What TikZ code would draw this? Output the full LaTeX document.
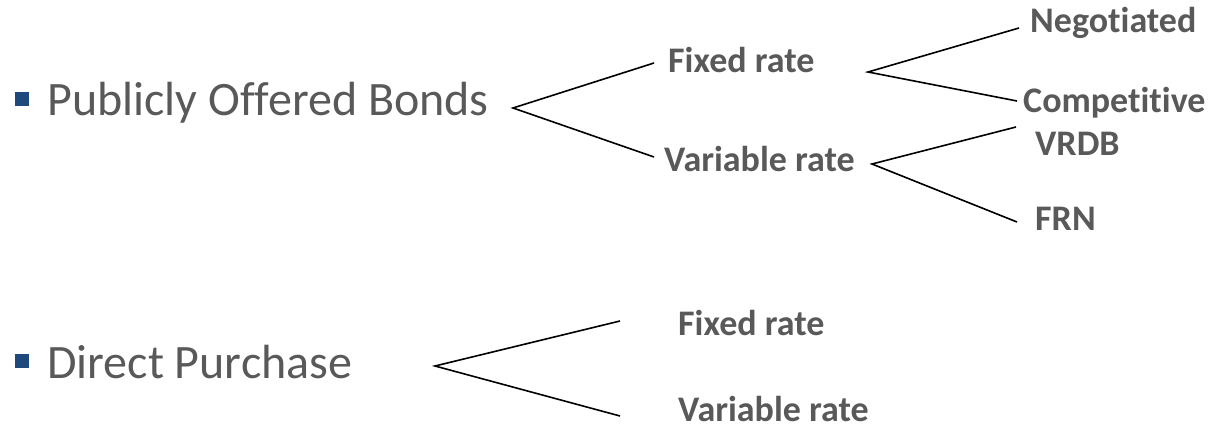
\documentclass[tikz,border=0pt]{standalone}
\usepackage{fontspec}
\setmainfont{Carlito}[Ligatures={NoCommon,NoRare,NoContextual,NoRequired}]
\definecolor{txtgray}{RGB}{89,89,89}
\definecolor{bulletblue}{RGB}{31,73,125}
\begin{document}
\begin{tikzpicture}[x=1pt,y=-1pt,
  mainlbl/.style={anchor=base west,inner sep=0pt,text=txtgray,font=\fontsize{48}{56}\selectfont},
  sublbl/.style={anchor=base west,inner sep=0pt,text=txtgray,font=\bfseries\fontsize{36}{43}\selectfont},
  bulletsq/.style={fill=bulletblue,draw=none,inner sep=0pt,minimum size=14pt},
  branch/.style={draw=black,line width=1.6pt,line join=miter}]
\useasboundingbox (0,0) rectangle (1215,428);
% bullets and main items
\node[bulletsq] (b1) at (22,98.5) {};
\node[mainlbl] (pob) at (47,115) {Publicly Of{\kern0pt}fered Bonds};
\node[bulletsq] (b2) at (22,360.5) {};
\node[mainlbl] (dp) at (47,378) {Direct Purchase};
% sub labels
\node[sublbl] (fr1) at (668,73) {Fixed rate};
\node[sublbl] (vr1) at (664,171) {Variable rate};
\node[sublbl] (neg) at (1030,33) {Negot{\kern0pt}iated};
\node[sublbl] (comp) at (1023,112) {Compet{\kern0pt}it{\kern0pt}ive};
\node[sublbl] (vrdb) at (1035,155) {VRDB};
\node[sublbl] (frn) at (1035,230) {FRN};
\node[sublbl] (fr2) at (678,335) {Fixed rate};
\node[sublbl] (vr2) at (678,421) {Variable rate};
% branch points
\coordinate (a1) at (513,108);
\coordinate (a1t) at (654,63);
\coordinate (a1b) at (654,157);
\coordinate (a2) at (868,72);
\coordinate (a2t) at (1019,28);
\coordinate (a2b) at (1017,101);
\coordinate (a3) at (872,164);
\coordinate (a3t) at (1016,127);
\coordinate (a3b) at (1017,222);
\coordinate (a4) at (435,366);
\coordinate (a4t) at (620,321);
\coordinate (a4b) at (620,416);
\draw[branch] (a1t) -- (a1) -- (a1b);
\draw[branch] (a2t) -- (a2) -- (a2b);
\draw[branch] (a3t) -- (a3) -- (a3b);
\draw[branch] (a4t) -- (a4) -- (a4b);
\end{tikzpicture}
\end{document}
